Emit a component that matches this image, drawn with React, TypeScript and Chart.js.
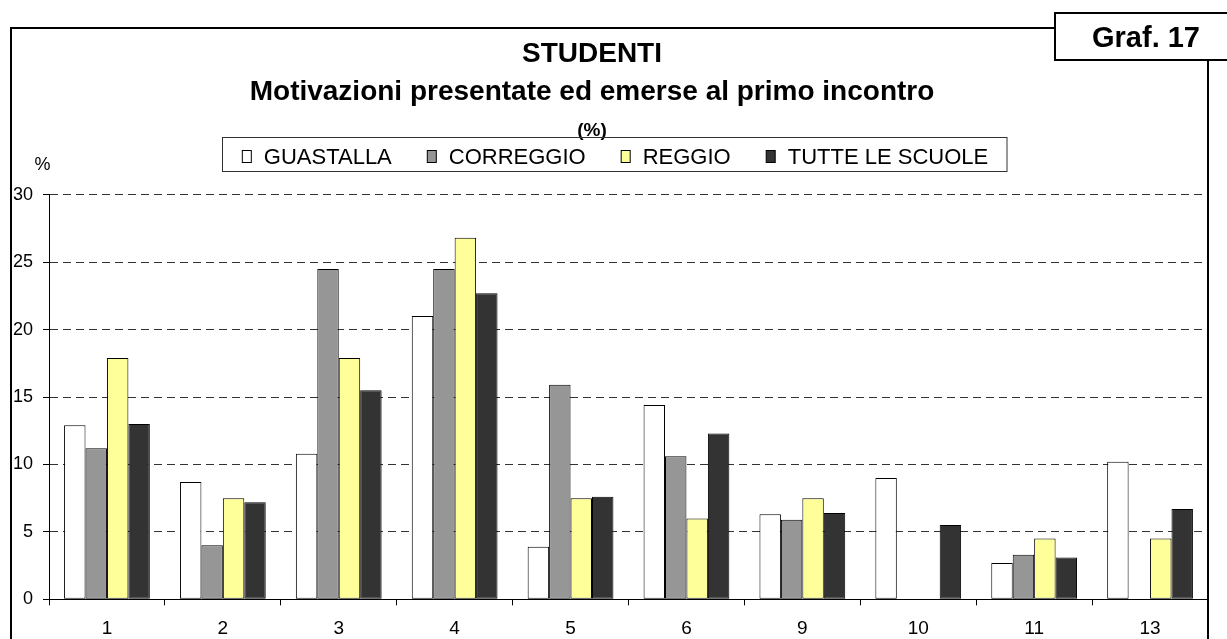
import React, { useEffect, useRef } from "react";
import { Chart, registerables } from "chart.js";

Chart.register(...registerables);

const categories = ["1", "2", "3", "4", "5", "6", "9", "10", "11", "13"];
const guastalla = [12.9, 8.7, 10.8, 21.0, 3.9, 14.4, 6.3, 9.0, 2.7, 10.2];
const correggio = [11.2, 4.0, 24.5, 24.5, 15.9, 10.6, 5.9, 0, 3.3, 0];
const reggio = [17.9, 7.5, 17.9, 26.8, 7.5, 6.0, 7.5, 0, 4.5, 4.5];
const tutte = [13.0, 7.2, 15.5, 22.7, 7.6, 12.3, 6.4, 5.5, 3.1, 6.7];

const seriesNames = ["GUASTALLA", "CORREGGIO", "REGGIO", "TUTTE LE SCUOLE"];
const seriesColors = ["#FFFFFF", "#969696", "#FFFF99", "#333333"];

const titleLines = ["STUDENTI", "Motivazioni presentate ed emerse al primo incontro"];
const subTitle = "(%)";
const badgeText = "Graf. 17";
const yUnit = "%";

const FONT = "'Liberation Sans', Arial, sans-serif";

const decorPlugin = {
  id: "decor",
  afterDraw(chart: any) {
    const ctx = chart.ctx as CanvasRenderingContext2D;
    ctx.save();
    // outer frame
    ctx.strokeStyle = "#000";
    ctx.lineWidth = 2;
    ctx.beginPath();
    ctx.moveTo(11, 650);
    ctx.lineTo(11, 28);
    ctx.lineTo(1055, 28);
    ctx.moveTo(1208, 60);
    ctx.lineTo(1208, 650);
    ctx.stroke();
    ctx.fillStyle = "#fff";
    ctx.fillRect(1055, 13, 200, 47);
    ctx.strokeRect(1055, 13, 200, 47);

    ctx.fillStyle = "#000";
    ctx.textBaseline = "alphabetic";
    ctx.textAlign = "center";
    ctx.font = `bold 29px ${FONT}`;
    ctx.fillText(badgeText, 1146, 47);

    ctx.font = `bold 28px ${FONT}`;
    ctx.fillText(titleLines[0], 592, 62);
    ctx.fillText(titleLines[1], 592, 100);
    ctx.font = `bold 19px ${FONT}`;
    ctx.fillText(subTitle, 592, 136);

    // y unit
    ctx.font = `18px ${FONT}`;
    ctx.fillText(yUnit, 42.5, 170);

    // legend
    ctx.font = `22px ${FONT}`;
    const boxW = 9;
    const boxH = 12;
    const gapText = 13;
    const gapItem = 35;
    const widths = seriesNames.map((n) => ctx.measureText(n).width);
    let total = 0;
    widths.forEach((w, i) => {
      total += boxW + gapText + w + (i < widths.length - 1 ? gapItem : 0);
    });
    let x = 615 - total / 2;
    ctx.lineWidth = 1;
    ctx.strokeStyle = "#333";
    ctx.strokeRect(222.5, 137.5, 784.5, 34);
    ctx.textAlign = "left";
    seriesNames.forEach((n, i) => {
      ctx.fillStyle = seriesColors[i];
      ctx.fillRect(x + 0.5, 150.5, boxW, boxH);
      ctx.strokeStyle = "#000";
      ctx.strokeRect(x + 0.5, 150.5, boxW, boxH);
      ctx.fillStyle = "#000";
      ctx.fillText(n, x + boxW + gapText, 164);
      x += boxW + gapText + widths[i] + gapItem;
    });
    ctx.restore();
  },
};

export default function App() {
  const ref = useRef<HTMLCanvasElement | null>(null);
  useEffect(() => {
    if (!ref.current) return;
    const data = [guastalla, correggio, reggio, tutte];
    const chart = new Chart(ref.current, {
      type: "bar",
      data: {
        labels: categories,
        datasets: seriesNames.map((name, i) => ({
          label: name,
          data: data[i],
          backgroundColor: seriesColors[i],
          borderColor: "#000",
          borderWidth: 1,
          borderSkipped: false,
          categoryPercentage: 0.74,
          barPercentage: 1.0,
        })),
      },
      options: {
        responsive: false,
        animation: false,
        devicePixelRatio: 1,
        layout: { padding: { top: 194.7, right: 19, left: 0, bottom: 0 } },
        plugins: {
          legend: { display: false },
          title: { display: false },
          tooltip: { enabled: false },
        },
        scales: {
          x: {
            grid: {
              display: true,
              drawOnChartArea: false,
              drawTicks: true,
              tickLength: 6,
              offset: true,
              color: "#000",
              tickColor: "#000",
            },
            border: { display: true, color: "#000", width: 1 },
            ticks: {
              color: "#000",
              font: { family: FONT, size: 19 },
              padding: 12,
              maxRotation: 0,
            },
            afterFit: (s: any) => {
              s.height = 39.7;
            },
          },
          y: {
            min: 0,
            max: 30,
            ticks: {
              stepSize: 5,
              color: "#000",
              font: { family: FONT, size: 18 },
              padding: 10,
            },
            grid: {
              color: "#333",
              lineWidth: 1,
              tickLength: 6,
              tickColor: "#000",
              tickBorderDash: [],
            },
            border: { display: true, color: "#000", width: 1, dash: [8, 5] },
            afterFit: (s: any) => {
              s.width = 49;
            },
          },
        },
      },
      plugins: [decorPlugin],
    });
    return () => chart.destroy();
  }, []);
  return (
    <div style={{ position: "fixed", left: 0, top: 0, width: 1227, height: 639, background: "#fff" }}>
      <canvas ref={ref} width={1227} height={639} style={{ display: "block" }} />
    </div>
  );
}
